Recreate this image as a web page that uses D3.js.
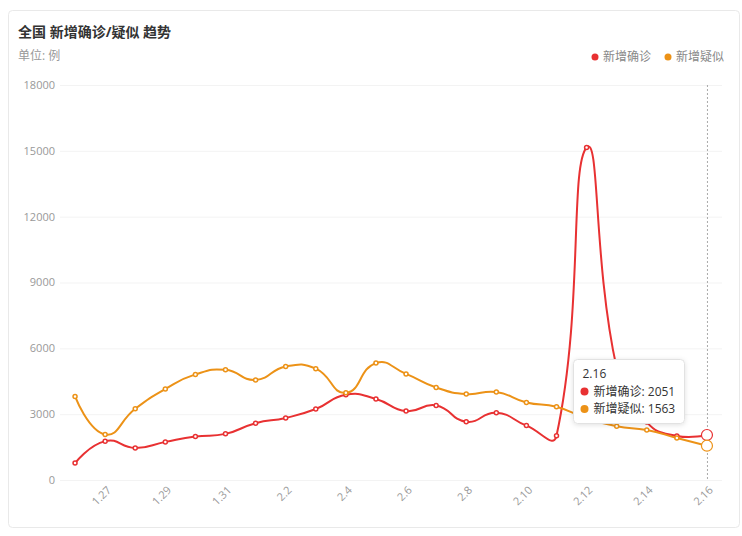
<!DOCTYPE html>
<html>
<head>
<meta charset="utf-8">
<script src="https://cdn.jsdelivr.net/npm/d3@7"></script>
<style>
  html, body { margin: 0; padding: 0; background: #fff; }
  svg { display: block; font-family: "Open Sans", "Noto Sans CJK SC", sans-serif; }
</style>
</head>
<body>
<svg id="chart" width="742" height="536"></svg>
<script>
const dates = ['1.26', '1.27', '1.28', '1.29', '1.30', '1.31', '2.1', '2.2', '2.3', '2.4', '2.5',
               '2.6', '2.7', '2.8', '2.9', '2.10', '2.11', '2.12', '2.13', '2.14', '2.15', '2.16'];
const confirmed = [769, 1771, 1459, 1737, 1982, 2102, 2590, 2829, 3235, 3887, 3694,
                   3143, 3399, 2656, 3062, 2478, 2015, 15152, 5090, 2641, 2009, 2051];
const suspected = [3806, 2077, 3248, 4148, 4812, 5019, 4562, 5173, 5072, 3971, 5328,
                   4833, 4214, 3916, 4008, 3536, 3342, 2807, 2450, 2277, 1918, 1563];
const yTicks = [0, 3000, 6000, 9000, 12000, 15000, 18000];
const seriesNames = ['新增确诊', '新增疑似'];
const colors = ['#e83132', '#ec9217'];

const svg = d3.select('#chart');
const plot = {left: 60, right: 722, top: 85, bottom: 480};

const x = d3.scalePoint()
    .domain(dates)
    .range([plot.left, plot.right])
    .padding(0.5);

const y = d3.scaleLinear()
    .domain([0, 18000])
    .range([plot.bottom, plot.top]);

// smooth line like echarts (smooth = 0.5)
function smoothPath(pts, smooth = 0.5) {
    let p = `M${pts[0][0]},${pts[0][1]}`;
    let cpx0 = pts[0][0], cpy0 = pts[0][1];
    for (let i = 1; i < pts.length; i++) {
        const [px, py] = pts[i - 1];
        const [cx, cy] = pts[i];
        let ncx, ncy, vx = 0, vy = 0, ratio = 0.5;
        if (i === pts.length - 1) {
            ncx = cx; ncy = cy;
        } else {
            const [nx, ny] = pts[i + 1];
            vx = nx - px; vy = ny - py;
            const l0 = Math.hypot(cx - px, cy - py);
            const l1 = Math.hypot(nx - cx, ny - cy);
            ratio = l1 / (l0 + l1);
            ncx = cx - vx * smooth * (1 - ratio);
            ncy = cy - vy * smooth * (1 - ratio);
        }
        p += `C${cpx0},${cpy0},${ncx},${ncy},${cx},${cy}`;
        cpx0 = cx + vx * smooth * ratio;
        cpy0 = cy + vy * smooth * ratio;
    }
    return p;
}

// card
svg.append('rect')
    .attr('x', 8.5).attr('y', 10.5)
    .attr('width', 731).attr('height', 517)
    .attr('rx', 4)
    .style('fill', '#fff')
    .style('stroke', '#e9e9e9');

svg.append('text')
    .attr('x', 18).attr('y', 37)
    .style('font-size', '14px')
    .style('font-weight', 'bold')
    .style('fill', '#333')
    .text('全国 新增确诊/疑似 趋势');

svg.append('text')
    .attr('x', 18).attr('y', 60)
    .style('font-size', '12px')
    .style('fill', '#999')
    .text('单位: 例');

// legend
const legend = svg.append('g').attr('class', 'legend');
const legendX = [595, 668];
seriesNames.forEach((name, i) => {
    const g = legend.append('g').attr('transform', `translate(${legendX[i]}, 57)`);
    g.append('circle').attr('r', 3.5).style('fill', colors[i]);
    g.append('text')
        .attr('x', 8).attr('dy', '0.35em')
        .style('font-size', '12px')
        .style('fill', '#888')
        .text(name);
});

// grid + y labels
const grid = svg.append('g').attr('class', 'grid');
grid.selectAll('line')
    .data(yTicks)
    .enter()
    .append('line')
        .attr('x1', plot.left).attr('x2', plot.right)
        .attr('y1', d => y(d) + 0.5).attr('y2', d => y(d) + 0.5)
        .style('stroke', '#f3f3f3');

grid.selectAll('text')
    .data(yTicks)
    .enter()
    .append('text')
        .attr('x', 55)
        .attr('y', d => y(d))
        .attr('dy', '0.35em')
        .attr('text-anchor', 'end')
        .style('font-size', '11px')
        .style('fill', '#999')
        .text(d => d);

// x labels, every other one
svg.append('g').attr('class', 'x-labels')
    .selectAll('text')
    .data(dates.filter((d, i) => i % 2 === 1))
    .enter()
    .append('text')
        .attr('transform', d => `translate(${x(d) + 4}, 488) rotate(-45)`)
        .attr('text-anchor', 'end')
        .attr('dy', '0.35em')
        .style('font-size', '11px')
        .style('fill', '#999')
        .text(d => d);

// axis pointer
const last = dates[dates.length - 1];
svg.append('line')
    .attr('x1', x(last) + 0.5).attr('x2', x(last) + 0.5)
    .attr('y1', plot.top).attr('y2', plot.bottom)
    .style('stroke', '#aaa')
    .style('stroke-dasharray', '2,2');

// series
[confirmed, suspected].forEach((vals, si) => {
    const pts = vals.map((v, i) => [x(dates[i]), y(v)]);
    const g = svg.append('g').attr('class', 'series');
    g.append('path')
        .attr('d', smoothPath(pts))
        .style('fill', 'none')
        .style('stroke', colors[si])
        .style('stroke-width', 2);

    g.selectAll('circle')
        .data(pts)
        .enter()
        .append('circle')
            .attr('cx', d => d[0])
            .attr('cy', d => d[1])
            .attr('r', (d, i) => i === pts.length - 1 ? 5.5 : 2)
            .style('fill', '#fff')
            .style('stroke', colors[si])
            .style('stroke-width', (d, i) => i === pts.length - 1 ? 1.2 : 1.5);
});

// tooltip
const defs = svg.append('defs');
const filter = defs.append('filter').attr('id', 'shadow')
    .attr('x', '-20%').attr('y', '-20%').attr('width', '140%').attr('height', '140%');
filter.append('feDropShadow')
    .attr('dx', 0).attr('dy', 1).attr('stdDeviation', 2.5)
    .attr('flood-color', '#000').attr('flood-opacity', 0.12);

const tip = svg.append('g').attr('transform', 'translate(573.5, 359.5)');
tip.append('rect')
    .attr('width', 111).attr('height', 64).attr('rx', 4)
    .style('fill', '#fff')
    .style('stroke', '#e2e2e2')
    .attr('filter', 'url(#shadow)');
tip.append('text')
    .attr('x', 9).attr('y', 18)
    .style('font-size', '12px')
    .style('fill', '#333')
    .text(last);
[confirmed, suspected].forEach((vals, si) => {
    const row = tip.append('g').attr('transform', `translate(11, ${32 + si * 17.5})`);
    row.append('circle').attr('r', 4).style('fill', colors[si]);
    row.append('text')
        .attr('x', 9).attr('dy', '0.35em')
        .style('font-size', '12px')
        .style('fill', '#333')
        .text(`${seriesNames[si]}: ${vals[vals.length - 1]}`);
});
</script>
</body>
</html>
